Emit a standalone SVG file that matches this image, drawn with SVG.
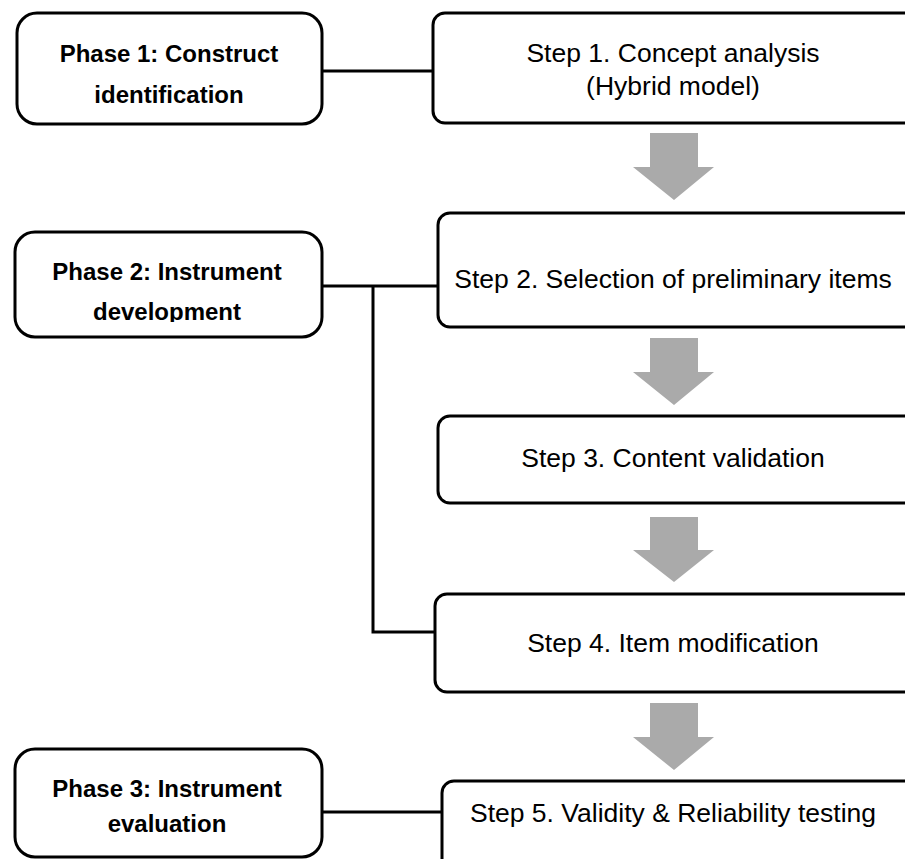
<svg xmlns="http://www.w3.org/2000/svg" width="905" height="859" viewBox="0 0 905 859">
<style>
.phase{fill:#fff;stroke:#000;stroke-width:3}
.step{fill:#fff;stroke:#000;stroke-width:3}
.pt{font-family:"Liberation Sans",Arial,sans-serif;font-weight:bold;font-size:24px;fill:#000;text-anchor:middle}
.st{font-family:"Liberation Sans",Arial,sans-serif;font-size:26.5px;fill:#000;text-anchor:middle}
.conn{fill:none;stroke:#000;stroke-width:3}
.arr{fill:#aaaaaa}
</style>
<defs>
<clipPath id="clip2"><rect x="0" y="0" width="905" height="322"/></clipPath>
</defs>
<rect width="905" height="859" fill="#fff"/>
<g id="connectors">
<line class="conn" x1="322" y1="71" x2="433" y2="71"/>
<line class="conn" x1="322" y1="286" x2="438" y2="286"/>
<polyline class="conn" points="373,286 373,632 435,632"/>
<line class="conn" x1="322" y1="812" x2="442" y2="812"/>
</g>
<g id="arrows">
<polygon class="arr" points="650,133 698,133 698,167 714,167 674,200 633,167 650,167"/>
<polygon class="arr" points="650,338 698,338 698,372 714,372 674,405 633,372 650,372"/>
<polygon class="arr" points="650,517 698,517 698,550 714,550 674,582 633,550 650,550"/>
<polygon class="arr" points="650,703 698,703 698,737 714,737 674,770 633,737 650,737"/>
</g>
<g id="phase1">
<rect class="phase" x="17" y="13" width="305" height="111" rx="20"/>
<text class="pt" x="169" y="62">Phase 1: Construct</text>
<text class="pt" x="169" y="103">identification</text>
</g>
<g id="phase2">
<rect class="phase" x="15" y="232" width="307" height="105" rx="20"/>
<g clip-path="url(#clip2)">
<text class="pt" x="167" y="280">Phase 2: Instrument</text>
<text class="pt" x="167" y="320">development</text>
</g>
</g>
<g id="phase3">
<rect class="phase" x="15" y="749" width="307" height="108" rx="20"/>
<text class="pt" x="167" y="797">Phase 3: Instrument</text>
<text class="pt" x="167" y="832">evaluation</text>
</g>
<g id="step1">
<rect class="step" x="433" y="13" width="500" height="110" rx="12"/>
<text class="st" x="673" y="62">Step 1. Concept analysis</text>
<text class="st" x="673" y="95">(Hybrid model)</text>
</g>
<g id="step2">
<rect class="step" x="438" y="213" width="495" height="114" rx="12"/>
<text class="st" x="673" y="288">Step 2. Selection of preliminary items</text>
</g>
<g id="step3">
<rect class="step" x="438" y="416" width="495" height="87" rx="12"/>
<text class="st" x="673" y="467">Step 3. Content validation</text>
</g>
<g id="step4">
<rect class="step" x="435" y="594" width="498" height="98" rx="12"/>
<text class="st" x="673" y="652">Step 4. Item modification</text>
</g>
<g id="step5">
<rect class="step" x="442" y="781" width="491" height="110" rx="12"/>
<text class="st" x="673" y="822">Step 5. Validity &amp; Reliability testing</text>
</g>
</svg>
